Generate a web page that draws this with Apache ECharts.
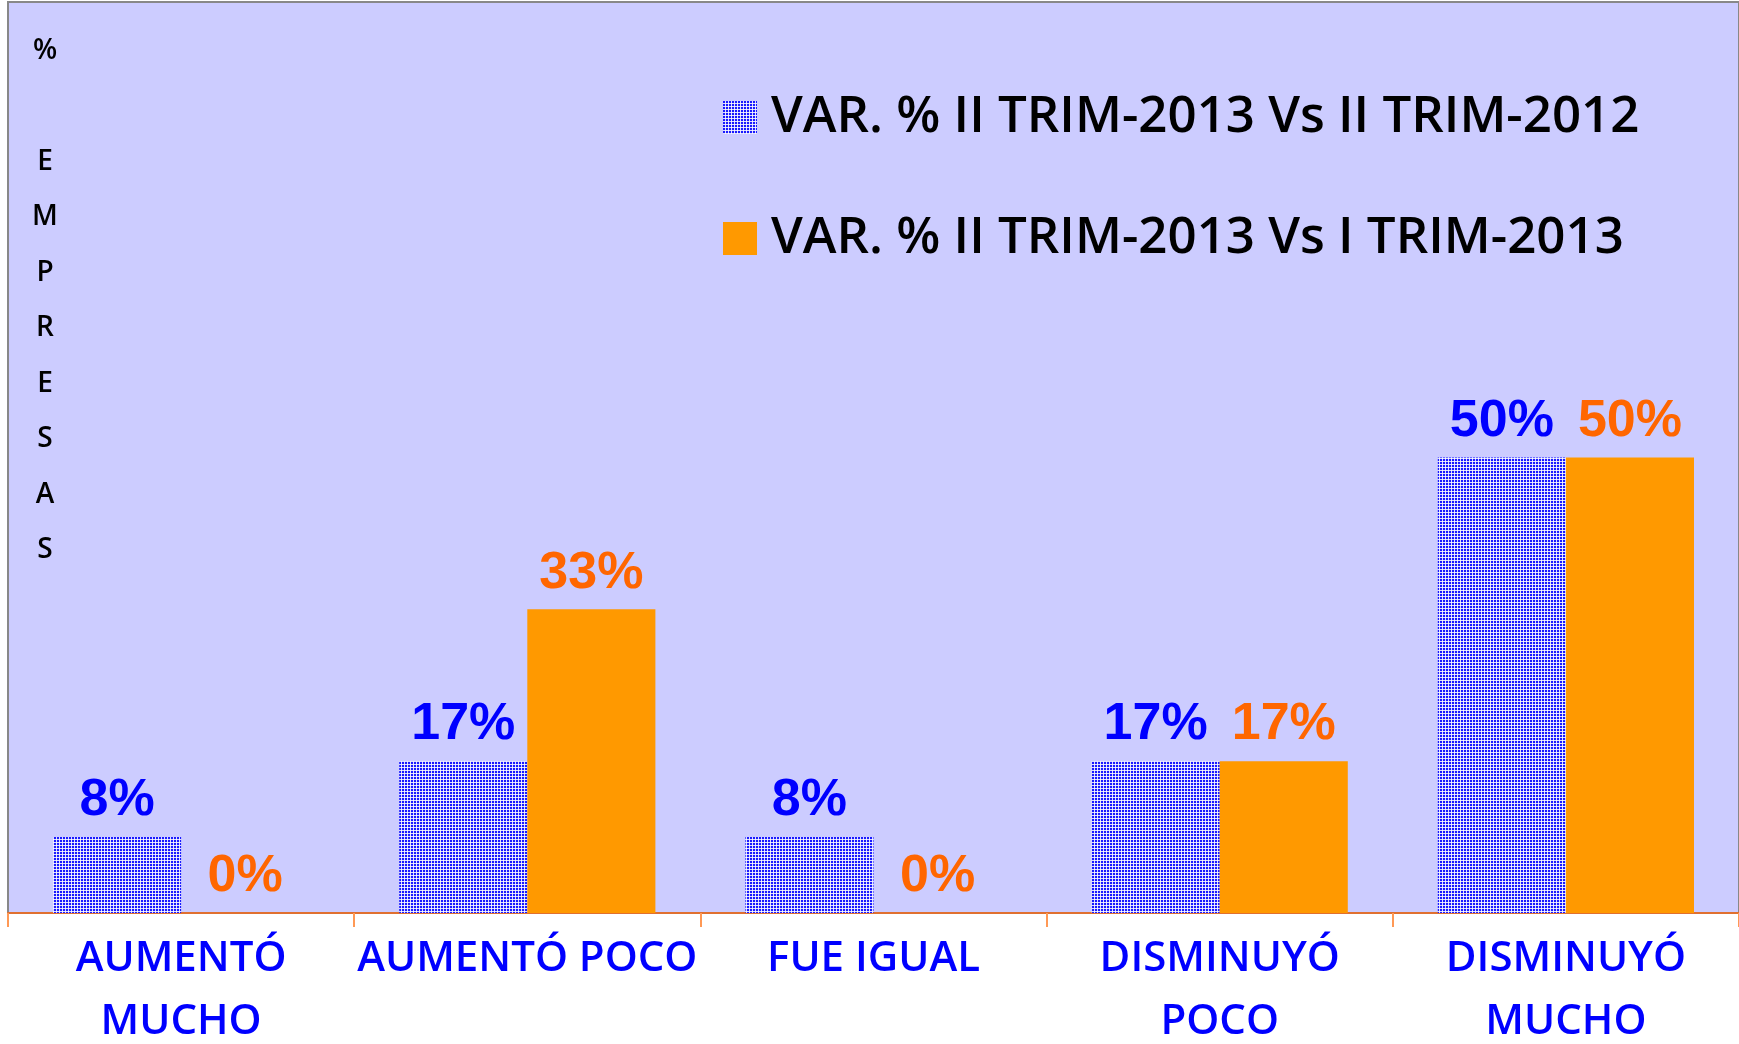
<!DOCTYPE html>
<html>
<head>
<meta charset="utf-8">
<script src="https://cdn.jsdelivr.net/npm/echarts@6/dist/echarts.min.js"></script>
<style>
  html, body { margin: 0; padding: 0; background: #fff; }
  #main { width: 1739px; height: 1044px; }
</style>
</head>
<body>
<div id="main"></div>
<script>
// chart data
const categories = ['AUMENTÓ\nMUCHO', 'AUMENTÓ POCO', 'FUE IGUAL', 'DISMINUYÓ\nPOCO', 'DISMINUYÓ\nMUCHO'];
const seriesNames = ['VAR. % II TRIM-2013 Vs II TRIM-2012', 'VAR. % II TRIM-2013 Vs I TRIM-2013'];
const varAnual = [8.33, 16.67, 8.33, 16.67, 50];     // vs II trim 2012
const varTrim = [0, 33.33, 0, 16.67, 50];            // vs I trim 2013
const sideTitle = '%\n\nE\nM\nP\nR\nE\nS\nA\nS';

// blue grid fill for the first series
function makePattern() {
    const c = document.createElement('canvas');
    c.width = 3; c.height = 3;
    const ctx = c.getContext('2d');
    ctx.fillStyle = '#1a1aff';
    ctx.fillRect(0, 0, 3, 3);
    ctx.fillStyle = 'rgba(255,255,255,0.85)';
    ctx.fillRect(2, 0, 1, 3);
    ctx.fillRect(0, 2, 3, 1);
    return c;
}

const chart = echarts.init(document.getElementById('main'));
const pctLabel = p => Math.round(p.value) + '%';

chart.setOption({
    animation: false,
    backgroundColor: '#ffffff',
    grid: {
        left: 8, right: 0, top: 2, bottom: 131,
        outerBoundsMode: 'none',
        containLabel: false,
        show: true,
        backgroundColor: '#CCCCFF',
        borderColor: '#888888',
        borderWidth: 2
    },
    legend: {
        orient: 'vertical',
        left: 723,
        top: 86,
        padding: 0,
        icon: 'rect',
        itemWidth: 34,
        itemHeight: 33,
        itemGap: 58,
        textStyle: {
            fontFamily: 'Open Sans',
            fontWeight: 600,
            fontSize: 51,
            lineHeight: 55,
            color: '#000',
            padding: [0, 0, 8, 9]
        },
        data: seriesNames
    },
    graphic: [{
        type: 'text',
        x: 45,
        y: 23,
        style: {
            text: sideTitle,
            fontFamily: 'Open Sans',
            fontWeight: 600,
            fontSize: 28,
            lineHeight: 55.5,
            align: 'center',
            verticalAlign: 'top',
            fill: '#000'
        }
    }],
    xAxis: {
        type: 'category',
        data: categories,
        axisLine: { lineStyle: { color: '#E07030', width: 2 } },
        axisTick: { show: true, length: 14, lineStyle: { color: '#FF9955', width: 2 } },
        axisLabel: {
            interval: 0,
            margin: 15,
            color: '#0000FF',
            fontFamily: 'Open Sans',
            fontWeight: 600,
            fontSize: 42,
            lineHeight: 63
        },
        splitLine: { show: false }
    },
    yAxis: {
        type: 'value',
        min: 0,
        max: 100,
        show: false,
        splitLine: { show: false }
    },
    series: [{
        name: seriesNames[0],
        type: 'bar',
        data: varAnual,
        barGap: '0%',
        barCategoryGap: '26%',
        itemStyle: { color: { image: makePattern(), repeat: 'repeat' } },
        label: {
            show: true, position: 'top', distance: 10,
            formatter: pctLabel,
            color: '#0000FF',
            fontFamily: 'Liberation Sans',
            fontWeight: 'bold',
            fontSize: 52
        }
    }, {
        name: seriesNames[1],
        type: 'bar',
        data: varTrim,
        barGap: '0%',
        barCategoryGap: '26%',
        itemStyle: { color: '#FF9900' },
        label: {
            show: true, position: 'top', distance: 10,
            formatter: pctLabel,
            color: '#FF6600',
            fontFamily: 'Liberation Sans',
            fontWeight: 'bold',
            fontSize: 52
        }
    }]
});
</script>
</body>
</html>
